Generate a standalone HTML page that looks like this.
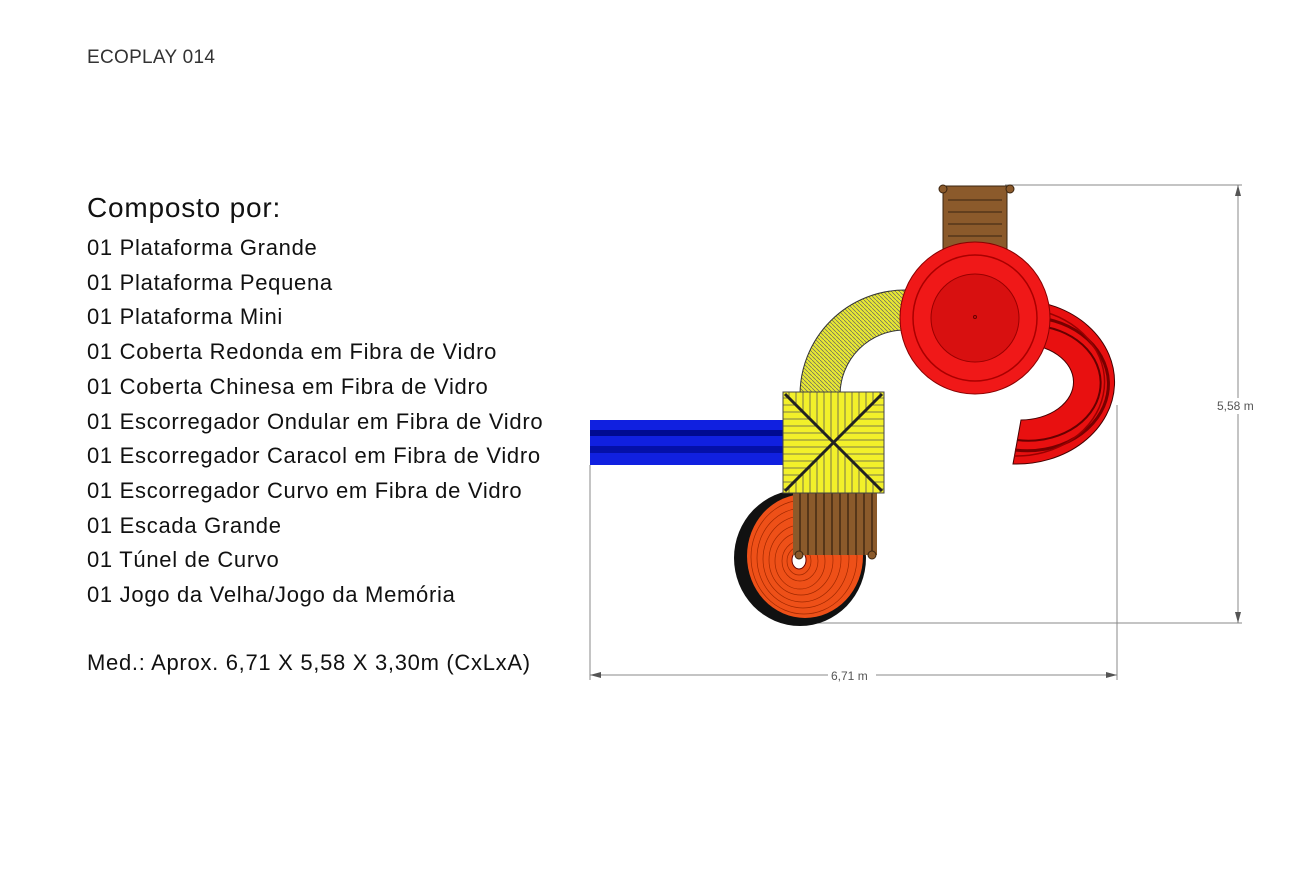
<!DOCTYPE html>
<html><head><meta charset="utf-8"><style>
body{margin:0;width:1305px;height:870px;background:#fff;position:relative;overflow:hidden;font-family:"Liberation Sans",sans-serif;color:#111}
.t{position:absolute;left:87px;white-space:nowrap}
</style></head><body>
<div class="t" style="top:47px;font-size:19px;color:#333;letter-spacing:0.3px">ECOPLAY 014</div>
<div class="t" style="top:192px;font-size:28px;letter-spacing:0.8px">Composto por:</div>
<div class="t" style="top:231px;font-size:22px;line-height:34.7px;letter-spacing:0.7px">
01 Plataforma Grande<br>01 Plataforma Pequena<br>01 Plataforma Mini<br>01 Coberta Redonda em Fibra de Vidro<br>01 Coberta Chinesa em Fibra de Vidro<br>01 Escorregador Ondular em Fibra de Vidro<br>01 Escorregador Caracol em Fibra de Vidro<br>01 Escorregador Curvo em Fibra de Vidro<br>01 Escada Grande<br>01 Túnel de Curvo<br>01 Jogo da Velha/Jogo da Memória</div>
<div class="t" style="top:650px;font-size:22px;letter-spacing:0.7px">Med.: Aprox. 6,71 X 5,58 X 3,30m (CxLxA)</div>

<svg width="1305" height="870" style="position:absolute;left:0;top:0">
<defs>
<pattern id="hs" width="4" height="4" patternUnits="userSpaceOnUse"><rect width="4" height="4" fill="#e8e832"/><line x1="0" y1="0" x2="4" y2="4" stroke="#666" stroke-width="0.7"/></pattern>
<clipPath id="ctb"><polygon points="783,392 884,392 833,442 783,493 884,493"/></clipPath>
<clipPath id="clr"><polygon points="783,392 833,442 884,392 884,493 833,442 783,493"/></clipPath>
</defs>
<g stroke="#888" stroke-width="1" fill="none">
<line x1="1005" y1="185" x2="1242" y2="185"/>
<line x1="1238" y1="185" x2="1238" y2="398"/><line x1="1238" y1="414" x2="1238" y2="623"/>
<line x1="800" y1="623" x2="1242" y2="623"/>
<line x1="590" y1="465" x2="590" y2="680"/>
<line x1="1117" y1="405" x2="1117" y2="680"/>
<line x1="590" y1="675" x2="828" y2="675"/><line x1="876" y1="675" x2="1117" y2="675"/>
</g>
<g fill="#555"><polygon points="1238,185 1235,196 1241,196"/><polygon points="1238,623 1235,612 1241,612"/>
<polygon points="590,675 601,672 601,678"/><polygon points="1117,675 1106,672 1106,678"/></g>
<text x="1217" y="410" font-size="12" fill="#555">5,58 m</text>
<text x="831" y="680" font-size="12" fill="#555">6,71 m</text>

<rect x="943" y="186" width="64" height="70" fill="#8b5a2b" stroke="#3a2410"/>
<g stroke="#3a2410"><line x1="948" y1="200" x2="1002" y2="200"/><line x1="948" y1="212" x2="1002" y2="212"/><line x1="948" y1="224" x2="1002" y2="224"/><line x1="948" y1="236" x2="1002" y2="236"/></g>
<circle cx="943" cy="189" r="4" fill="#8b5a2b" stroke="#3a2410"/><circle cx="1010" cy="189" r="4" fill="#8b5a2b" stroke="#3a2410"/>

<path d="M1020,300 A98,82 0 0 1 1013,464 L1021,420 A53,38 0 0 0 1020,344 Z" fill="#e81010" stroke="#400" stroke-width="1"/>
<g fill="none">
<path d="M1040,318 A80,66 0 0 1 1015,450" stroke="#700" stroke-width="3"/>
<path d="M1040,326 A70,56 0 0 1 1017,440" stroke="#600" stroke-width="2"/>
<path d="M1045,312 A88,74 0 0 1 1014,456" stroke="#900" stroke-width="1.5"/>
</g>

<path d="M905,290 A105,105 0 0 0 800,395 L840,395 A65,65 0 0 1 905,330 Z" fill="url(#hs)" stroke="#333" stroke-width="1"/>

<ellipse cx="975" cy="318" rx="75" ry="76" fill="#f01818" stroke="#800" stroke-width="1"/>
<ellipse cx="975" cy="318" rx="62" ry="63" fill="none" stroke="#a00" stroke-width="1.5"/>
<ellipse cx="975" cy="318" rx="44" ry="44" fill="#d81010" stroke="#900" stroke-width="1"/>
<circle cx="975" cy="317" r="1.5" fill="none" stroke="#600"/>

<rect x="590" y="420" width="195" height="45" fill="#1020e0"/>
<rect x="590" y="430" width="195" height="6" fill="#000a90"/>
<rect x="590" y="446" width="195" height="7" fill="#000a90" opacity="0.7"/>

<ellipse cx="800" cy="558" rx="66" ry="68" fill="#111"/>
<ellipse cx="805" cy="556" rx="58" ry="62" fill="#ee5018"/>
<g fill="none" stroke="#a02800" stroke-width="0.7">
<ellipse cx="804" cy="557" rx="53" ry="57"/><ellipse cx="803" cy="558" rx="46" ry="50"/><ellipse cx="802" cy="559" rx="39" ry="43"/><ellipse cx="801" cy="560" rx="32" ry="35"/><ellipse cx="800" cy="561" rx="25" ry="28"/><ellipse cx="800" cy="561" rx="18" ry="20"/><ellipse cx="799" cy="561" rx="12" ry="14"/></g>
<ellipse cx="799" cy="560" rx="7" ry="9" fill="#fff" stroke="#600"/>

<rect x="793" y="493" width="84" height="62" fill="#8b5a2b"/>
<g stroke="#3a2410" stroke-width="1.3">
<line x1="800" y1="493" x2="800" y2="555"/><line x1="808" y1="493" x2="808" y2="555"/><line x1="816" y1="493" x2="816" y2="555"/><line x1="824" y1="493" x2="824" y2="555"/><line x1="832" y1="493" x2="832" y2="555"/><line x1="840" y1="493" x2="840" y2="555"/><line x1="848" y1="493" x2="848" y2="555"/><line x1="856" y1="493" x2="856" y2="555"/><line x1="864" y1="493" x2="864" y2="555"/><line x1="872" y1="493" x2="872" y2="555"/></g>
<circle cx="799" cy="555" r="4" fill="#8b5a2b" stroke="#3a2410"/><circle cx="872" cy="555" r="4" fill="#8b5a2b" stroke="#3a2410"/>

<rect x="783" y="392" width="101" height="101" fill="#f2f02a"/>
<g clip-path="url(#ctb)" stroke="#555" stroke-width="0.8">
<line x1="789" y1="392" x2="789" y2="493"/><line x1="796" y1="392" x2="796" y2="493"/><line x1="803" y1="392" x2="803" y2="493"/><line x1="810" y1="392" x2="810" y2="493"/><line x1="817" y1="392" x2="817" y2="493"/><line x1="824" y1="392" x2="824" y2="493"/><line x1="831" y1="392" x2="831" y2="493"/><line x1="838" y1="392" x2="838" y2="493"/><line x1="845" y1="392" x2="845" y2="493"/><line x1="852" y1="392" x2="852" y2="493"/><line x1="859" y1="392" x2="859" y2="493"/><line x1="866" y1="392" x2="866" y2="493"/><line x1="873" y1="392" x2="873" y2="493"/><line x1="880" y1="392" x2="880" y2="493"/></g>
<g clip-path="url(#clr)" stroke="#555" stroke-width="0.8">
<line y1="398" x1="783" y2="398" x2="884"/><line y1="405" x1="783" y2="405" x2="884"/><line y1="412" x1="783" y2="412" x2="884"/><line y1="419" x1="783" y2="419" x2="884"/><line y1="426" x1="783" y2="426" x2="884"/><line y1="433" x1="783" y2="433" x2="884"/><line y1="440" x1="783" y2="440" x2="884"/><line y1="447" x1="783" y2="447" x2="884"/><line y1="454" x1="783" y2="454" x2="884"/><line y1="461" x1="783" y2="461" x2="884"/><line y1="468" x1="783" y2="468" x2="884"/><line y1="475" x1="783" y2="475" x2="884"/><line y1="482" x1="783" y2="482" x2="884"/><line y1="489" x1="783" y2="489" x2="884"/></g>
<rect x="783" y="392" width="101" height="101" fill="none" stroke="#444" stroke-width="1"/>
<g stroke="#222" stroke-width="3"><line x1="785" y1="394" x2="882" y2="491"/><line x1="882" y1="394" x2="785" y2="491"/></g>
</svg>
</body></html>
